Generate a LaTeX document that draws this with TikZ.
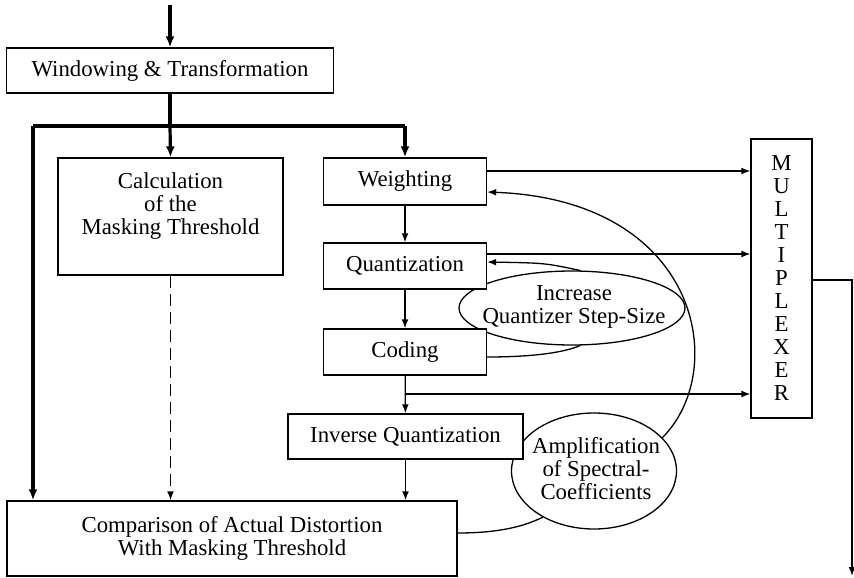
\documentclass[tikz,border=0pt]{standalone}
\usepackage{fontspec}
\setmainfont{Liberation Serif}
\usetikzlibrary{arrows.meta,shapes.geometric}
\begin{document}
\begin{tikzpicture}[x=0.5pt,y=-0.5pt,
  every node/.style={font=\fontsize{11.4}{11.5}\selectfont, inner sep=0pt},
  box/.style={draw, line width=0.65pt, fill=white, align=center},
  oval/.style={draw, line width=0.65pt, ellipse},
  ln/.style={line width=0.65pt},
  thk/.style={line width=1.6pt},
  arr/.style={-{Latex[length=4.5pt,width=3.4pt]}},
  tarr/.style={-{Latex[length=5.5pt,width=4.5pt]}},
  dsh/.style={dash pattern=on 6pt off 3pt}
]
\useasboundingbox (0,0) rectangle (854,577);
% ellipses (drawn first, boxes cover them)
\node[oval, minimum width=113pt, minimum height=37pt] (inc) at (572,308) {};
\node[align=center] (inct) at (574,307) {Increase\\Quantizer Step-Size};
\node[oval, minimum width=82.5pt, minimum height=58pt] (amp) at (594,471) {};
\node[align=center] (ampt) at (596,469) {Amplification\\of Spectral-\\Coefficients};
% boxes
\node[box, minimum width=163.5pt, minimum height=22.5pt] (win) at (170,70.5) {Windowing \& Transformation};
\node[box, minimum width=112.5pt, minimum height=58.5pt] (calc) at (170.5,216.5) {};
\node[align=center] (calct) at (170.5,206) {Calculation\\of the\\Masking Threshold};
\node[box, minimum width=81.5pt, minimum height=23.5pt] (wgt) at (405,181.5) {Weighting};
\node[box, minimum width=81.5pt, minimum height=23pt] (qnt) at (405,266) {Quantization};
\node[box, minimum width=81.5pt, minimum height=23pt] (cod) at (405,352) {Coding};
\node[box, minimum width=117.5pt, minimum height=22.5pt] (inv) at (405.5,436.5) {Inverse Quantization};
\node[box, minimum width=225pt, minimum height=37.5pt] (cmp) at (232,538.5) {Comparison of Actual Distortion\\With Masking Threshold};
\node[box, minimum width=30.5pt, minimum height=139.5pt] (mux) at (781.5,278.5) {M\\U\\L\\T\\I\\P\\L\\E\\X\\E\\R};
% coordinates
\coordinate (in) at (170,5);
\coordinate (bm) at (170,126);
\coordinate (bl) at (33,126);
\coordinate (br) at (405,126);
\coordinate (w1) at (0,171);
\coordinate (q1) at (0,254);
\coordinate (cb) at (405,394);
\coordinate (oc) at (852,280);
\coordinate (oe) at (852,576);
\coordinate (cl) at (0,357);
\coordinate (ql) at (0,262);
\coordinate (wa) at (0,192);
\coordinate (cc) at (0,533);
% thick input and bus
\draw[thk, tarr] (in) -- (win.north);
\draw[thk] (win.south) -- (bm);
\draw[thk] (bl) -- (br);
\draw[thk, tarr] (bm) -- (calc.north);
\draw[thk, tarr] (br) -- (wgt.north);
\draw[thk, tarr] (bl) -- (bl |- cmp.north);
\draw[ln, dsh, arr] (calc.south) -- (calc.south |- cmp.north);
% main chain
\draw[ln, arr] (wgt) -- (qnt);
\draw[ln, arr] (qnt) -- (cod);
\draw[ln, arr] (cod) -- (inv);
\draw[ln, arr] (inv.south) -- (inv.south |- cmp.north);
% to multiplexer
\draw[ln, arr] (wgt.east |- w1) -- (mux.west |- w1);
\draw[ln, arr] (qnt.east |- q1) -- (mux.west |- q1);
\draw[ln, arr] (cb) -- (mux.west |- cb);
\draw[ln, arr] (mux.east |- oc) -- (oc) -- (oe);
% loops
\draw[ln] (cod.east |- cl) .. controls (545,357) and (570,350) .. (inc.-78);
\draw[ln, arr] (inc.78) .. controls (545,263) .. (qnt.east |- ql);
\draw[ln] (cmp.east |- cc) .. controls (500,533) and (525,526) .. (amp.222);
\draw[ln, arr] (amp.26) .. controls (730,370) and (700,200) .. (wgt.east |- wa);
\end{tikzpicture}
\end{document}
